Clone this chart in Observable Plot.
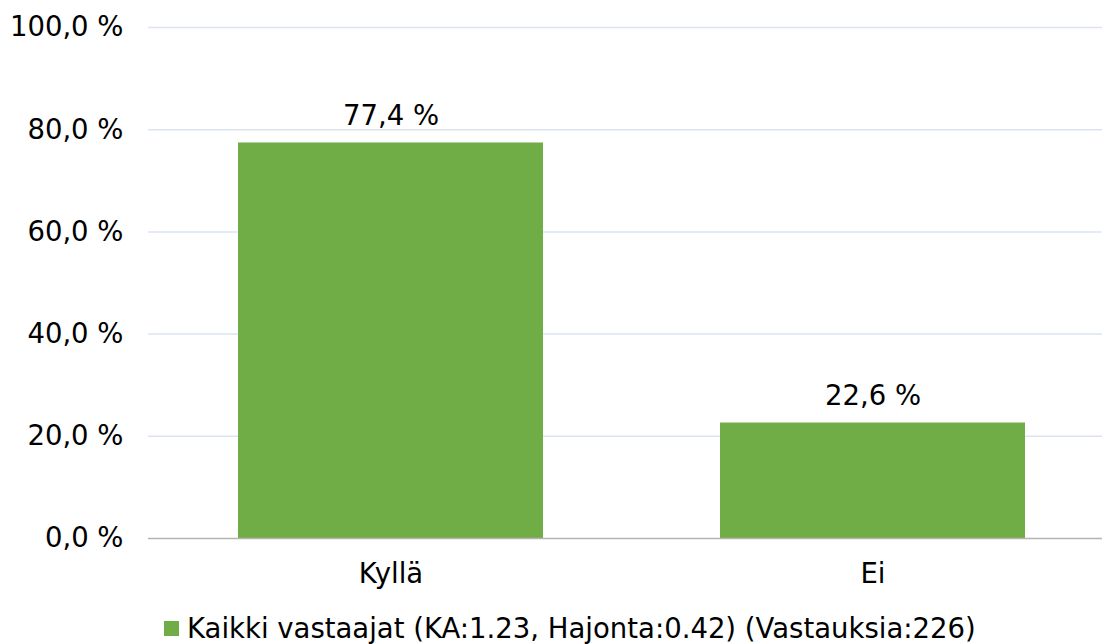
<!DOCTYPE html>
<html>
<head>
<meta charset="utf-8">
<script src="https://cdn.jsdelivr.net/npm/d3@7"></script>
<script src="https://cdn.jsdelivr.net/npm/@observablehq/plot@0.6"></script>
<style>
  body { margin: 0; background: #fff; font-family: "DejaVu Sans", Verdana, sans-serif; }
  #legend { font-size: 27.5px; color: #000; padding-top: 12px; padding-left: 164px; display: flex; align-items: center; white-space: nowrap; }
  #legend .sw { width: 15px; height: 15px; background: #70AD47; margin-right: 8px; display: inline-block; }
</style>
</head>
<body>
<div id="chart"></div>
<div id="legend"><span class="sw"></span><span id="legtext"></span></div>
<script>
const categories = ["Kyllä", "Ei"];
const values = [77.4, 22.6];
const yTicks = [0, 20, 40, 60, 80, 100];
const seriesName = "Kaikki vastaajat (KA:1.23, Hajonta:0.42) (Vastauksia:226)";

const data = categories.map((c, i) => ({category: c, value: values[i]}));
const fmt = d => d.toFixed(1).replace(".", ",") + " %";

const chart = Plot.plot({
  width: 1102,
  height: 600,
  marginLeft: 148,
  marginRight: 0,
  marginTop: 27,
  marginBottom: 62,
  style: {fontFamily: "'DejaVu Sans', Verdana, sans-serif", fontSize: "27.5px", color: "#000", background: "#fff"},
  x: {domain: categories, range: [149.5, 1113.5], paddingInner: 0.367, paddingOuter: 0.1835, label: null, tickSize: 0, tickPadding: 25},
  y: {domain: [0, 100], ticks: yTicks, tickFormat: fmt, label: null, tickSize: 0, tickPadding: 25},
  marks: [
    Plot.ruleY(yTicks.filter(d => d > 0), {stroke: "#dde4f1", strokeWidth: 1.5}),
    Plot.barY(data, {x: "category", y: "value", fill: "#70AD47"}),
    Plot.ruleY([0], {stroke: "#b4b4b4", strokeWidth: 1.5}),
    Plot.text(data, {x: "category", y: "value", text: d => fmt(d.value), lineAnchor: "bottom", dy: -18, fill: "#000", fontSize: 27.5})
  ]
});
document.getElementById("chart").appendChild(chart);
document.getElementById("legtext").textContent = seriesName;
</script>
</body>
</html>
